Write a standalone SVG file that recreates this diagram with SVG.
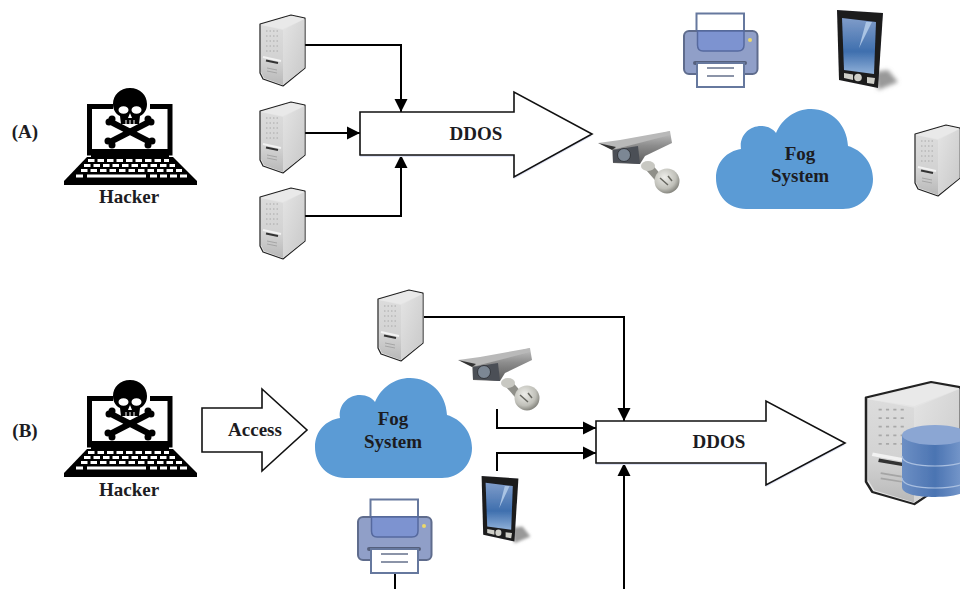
<svg xmlns="http://www.w3.org/2000/svg" xmlns:xlink="http://www.w3.org/1999/xlink" width="960" height="589" viewBox="0 0 960 589">
<style>
text{font-family:"Liberation Serif","Times New Roman",serif;font-weight:bold;fill:#1c1c22;text-anchor:middle}
.lab{font-size:19px}
.big{fill:#fff;stroke:#111;stroke-width:1.6}
.shadow{fill:#dfe3f4}
.wire{fill:none;stroke:#000;stroke-width:2}
.cloud{fill:#5b9bd5}
.key{stroke:#fff;fill:none;stroke-width:3}
</style>
<defs>
<filter id="soft" x="-10%" y="-10%" width="120%" height="120%"><feGaussianBlur stdDeviation="0.6"/></filter>
<filter id="blur3" x="-50%" y="-50%" width="200%" height="200%"><feGaussianBlur stdDeviation="2"/></filter>
<linearGradient id="front" x1="0" y1="0" x2="0" y2="1"><stop offset="0" stop-color="#dcdcdc"/><stop offset="0.6" stop-color="#d2d2d2"/><stop offset="1" stop-color="#b8b8b8"/></linearGradient>
<linearGradient id="side" x1="0" y1="0" x2="1" y2="1"><stop offset="0" stop-color="#e4e4e4"/><stop offset="1" stop-color="#c8c8c8"/></linearGradient>
<linearGradient id="screen" x1="0" y1="0" x2="0" y2="1"><stop offset="0" stop-color="#7f9cc9"/><stop offset="0.6" stop-color="#3f6fae"/><stop offset="1" stop-color="#8fb0d8"/></linearGradient>
<linearGradient id="camtop" x1="0" y1="0" x2="0" y2="1"><stop offset="0" stop-color="#c4c4c4"/><stop offset="0.45" stop-color="#8c8c8c"/><stop offset="1" stop-color="#5c5c5c"/></linearGradient>
<radialGradient id="ball" cx="0.4" cy="0.35" r="0.7"><stop offset="0" stop-color="#eeeeea"/><stop offset="0.65" stop-color="#c0c0b9"/><stop offset="1" stop-color="#7a7a73"/></radialGradient>
<linearGradient id="db" x1="0" y1="0" x2="1" y2="0"><stop offset="0" stop-color="#6d8fc4"/><stop offset="0.5" stop-color="#4b74b2"/><stop offset="1" stop-color="#7f9fd0"/></linearGradient>
<marker id="ah" markerUnits="userSpaceOnUse" markerWidth="15" markerHeight="15" refX="13" refY="7" orient="auto"><path d="M0 0.500L13 7L0 13.500Z" fill="#000"/></marker>
<g id="serverArt">
<path d="M0 9L31 0L45 3L45 53L23 71L3 64L0 58Z" fill="#e4e4e4" stroke="#222" stroke-width="1.200" stroke-linejoin="round"/>
<path d="M1 10L23 15L23 70L4 63L1 57Z" fill="url(#front)"/>
<path d="M23 15L44.500 4L44.500 53L23 70Z" fill="url(#side)"/>
<path d="M1 10L31 1L44 4L23 14Z" fill="#e9e9e9"/>
<path d="M6 16h13M6 21h13M6 26h13M6 31h13M6 36h13" stroke="#a8a8a8" stroke-dasharray="1.500 2"/>
<path d="M3 42L21 46" stroke="#f2f2f2" stroke-width="2"/>
<path d="M6 45.500L18 48" stroke="#333" stroke-width="2"/>
<path d="M7 53L17 55M7 56L17 58" stroke="#a5a5a5"/>
</g>
<g id="server" filter="url(#soft)"><use href="#serverArt" xlink:href="#serverArt"/></g>
<g id="laptop">
<path d="M113 106.500H89.500V153H170V106.500H150" fill="none" stroke="#000" stroke-width="5"/>
<path d="M91 149H169V157H91Z" fill="#000"/>
<g stroke="#000" stroke-width="6" stroke-linecap="round">
<path d="M113 123L148 141M147 123L112 141"/>
</g>
<g fill="#000"><circle cx="109" cy="122" r="3.500"/><circle cx="112" cy="119" r="3.500"/><circle cx="151" cy="122" r="3.500"/><circle cx="148" cy="119" r="3.500"/><circle cx="108" cy="141" r="3.500"/><circle cx="112" cy="145" r="3.500"/><circle cx="152" cy="141" r="3.500"/><circle cx="148" cy="145" r="3.500"/></g>
<path d="M130 88C120 88 113 95 113 104C113 110 116 114 120 116L121 124H139L140 116C144 114 147 110 147 104C147 95 140 88 130 88Z" fill="#000"/>
<ellipse cx="123.500" cy="110" rx="5" ry="3.800" fill="#fff"/><ellipse cx="136.500" cy="110" rx="5" ry="3.800" fill="#fff"/>
<path d="M130 113L128 118H132Z" fill="#fff"/>
<path d="M126 120V124M130 120V124M134 120V124" stroke="#fff" stroke-width="1"/>
<path d="M87 157H173L197 181V185H64V181Z" fill="#000"/>
<path class="key" d="M88 160.500H169" stroke-dasharray="6.500 3"/>
<path class="key" d="M84 165.500H175" stroke-dasharray="6.500 3"/>
<path class="key" d="M81 170.500H182" stroke-dasharray="6.500 3"/>
<path class="key" d="M76 176H83"/><path class="key" d="M87 176H146"/><path class="key" d="M150 176H187" stroke-dasharray="7 3"/>
</g>
<g id="printer" filter="url(#soft)">
<rect x="696.500" y="13.500" width="47.500" height="22" fill="#fff" stroke="#66789e" stroke-width="2"/>
<rect x="684" y="31" width="73.500" height="43" rx="5" fill="#909fc8" stroke="#5e6c8d" stroke-width="2"/>
<path d="M697.500 31V45Q697.500 51 703 51H738Q744 51 744 45V31Z" fill="#7d93d0" stroke="#56699e" stroke-width="1.500"/>
<rect x="693" y="61" width="54" height="4" rx="2" fill="#55617d"/>
<rect x="697" y="63" width="47" height="24" fill="#fff" stroke="#66789e" stroke-width="2"/>
<path d="M707 68H734M707 76H734" stroke="#66718c" stroke-width="1.500"/>
<circle cx="750" cy="40" r="2" fill="#ecd96a"/>
</g>
<g id="tablet" filter="url(#soft)">
<path d="M875 72L888 70L898 82L878 90Z" fill="#999" filter="url(#blur3)"/>
<path d="M837 10L883 13L878 88L839 80Z" fill="#1b1b1f"/>
<path d="M842 18L876 22L874 74L844 70Z" fill="url(#screen)"/>
<path d="M866 22L872 22L859 48Z" fill="#aac4e4"/>
<path d="M844 73L853 74.500L853 80L844 78ZM867 77L875 78L874 84L867 83Z" fill="#cfcfc8"/>
<circle cx="858" cy="77.500" r="3.800" fill="#cfcfc8"/>
</g>
<g id="camera" filter="url(#soft)">
<path d="M648 166L662 182" stroke="#8f8f89" stroke-width="8"/>
<circle cx="667" cy="181" r="12.500" fill="url(#ball)"/>
<path d="M660 178L668 185M668 176L672 181" stroke="#66665f" stroke-width="1.500"/>
<ellipse cx="648" cy="166" rx="7" ry="5" fill="#c8c8c2"/>
<path d="M612 147L670 131L672 143L645 156L640 164L613 163Z" fill="url(#camtop)"/>
<path d="M598 143L620 140L670 131L670 135L616 149Z" fill="#b9b9b9"/>
<path d="M598 143L612 150L616 147Z" fill="#333"/>
<path d="M613 150L638 146L640 164L613 162Z" fill="#4b4f57"/>
<circle cx="624" cy="155" r="6.500" fill="#7c8794" stroke="#33363c"/>
</g>
<path id="cloudShape" class="cloud" d="M746 209C728 209 716 195 716 178C716 162 727 151 741 149C739 136 749 126 761 126C768 126 773 129 776 133C782 119 795 109 811 109C831 109 847 124 848 146C862 150 873 163 873 179C873 196 860 209 843 209Z"/>
</defs>

<g id="connectors">
<path class="wire" d="M305 45H401V112" marker-end="url(#ah)"/>
<path class="wire" d="M305 133H360" marker-end="url(#ah)"/>
<path class="wire" d="M305 216H401V155" marker-end="url(#ah)"/>
<path class="wire" d="M424 317H624V421" marker-end="url(#ah)"/>
<path class="wire" d="M497 409V428H596" marker-end="url(#ah)"/>
<path class="wire" d="M497 471V453H596" marker-end="url(#ah)"/>
<path class="wire" d="M624 589V463" marker-end="url(#ah)"/>
<path class="wire" d="M395 574V589"/>
</g>

<g id="label-a"><text class="lab" x="25" y="138">(A)</text></g>
<g id="label-b"><text class="lab" x="25" y="437">(B)</text></g>

<g id="hacker-a"><use href="#laptop" xlink:href="#laptop"/><text class="lab" x="129" y="203">Hacker</text></g>
<g id="hacker-b"><use href="#laptop" xlink:href="#laptop" y="292"/><text class="lab" x="129" y="496">Hacker</text></g>

<g id="server-a1"><use href="#server" xlink:href="#server" x="260" y="15"/></g>
<g id="server-a2"><use href="#server" xlink:href="#server" x="260" y="102"/></g>
<g id="server-a3"><use href="#server" xlink:href="#server" x="260" y="188"/></g>
<g id="server-a4"><use href="#server" xlink:href="#server" x="915" y="125"/></g>
<g id="server-b1"><use href="#server" xlink:href="#server" x="378" y="290"/></g>

<g id="ddos-a">
<path class="shadow" d="M360 114H514V94L592 136L514 179V157H360Z"/>
<path class="big" d="M360 112H514V92L592 134L514 177V155H360Z"/>
<text class="lab" x="476" y="140">DDOS</text>
</g>
<g id="ddos-b">
<path class="shadow" d="M596 423H766V403L845 445L766 487V465H596Z"/>
<path class="big" d="M596 421H766V401L845 443L766 485V463H596Z"/>
<text class="lab" x="719" y="448">DDOS</text>
</g>
<g id="access">
<path class="big" d="M202 408H262V389L307 430L262 471V452H202Z"/>
<text class="lab" x="255" y="436">Access</text>
</g>

<g id="camera-a"><use href="#camera" xlink:href="#camera"/></g>
<g id="camera-b"><use href="#camera" xlink:href="#camera" x="-140" y="217"/></g>

<g id="cloud-a"><use href="#cloudShape" xlink:href="#cloudShape"/><text class="lab" x="800" y="160">Fog</text><text class="lab" x="800" y="182">System</text></g>
<g id="cloud-b"><use href="#cloudShape" xlink:href="#cloudShape" x="-401" y="269"/><text class="lab" x="393" y="425">Fog</text><text class="lab" x="393" y="448">System</text></g>

<g id="printer-a"><use href="#printer" xlink:href="#printer"/></g>
<g id="printer-b"><use href="#printer" xlink:href="#printer" x="-326" y="486"/></g>

<g id="tablet-a"><use href="#tablet" xlink:href="#tablet"/></g>
<g id="tablet-b"><use href="#tablet" xlink:href="#tablet" transform="translate(-188 467.600) scale(.8 .84)"/></g>

<g id="database">
<use href="#serverArt" xlink:href="#serverArt" transform="translate(866 382) scale(2.100 1.720)"/>
<g filter="url(#soft)">
<path d="M902 477V487C902 494 917 497 935 497S968 494 968 487V477Z" fill="url(#db)"/>
<path d="M902 455V478C902 485 917 488 935 488S968 485 968 478V455Z" fill="url(#db)"/>
<path d="M902 435V456C902 463 917 466 935 466S968 463 968 456V435Z" fill="url(#db)"/>
<path d="M902 456C902 463 917 466 935 466S968 463 968 456" fill="none" stroke="#a9bfe0" stroke-width="1.200"/>
<path d="M902 478C902 485 917 488 935 488S968 485 968 478" fill="none" stroke="#a9bfe0" stroke-width="1.200"/>
<ellipse cx="935" cy="435" rx="33" ry="10" fill="#8ba6d3"/>
</g>
</g>
</svg>
